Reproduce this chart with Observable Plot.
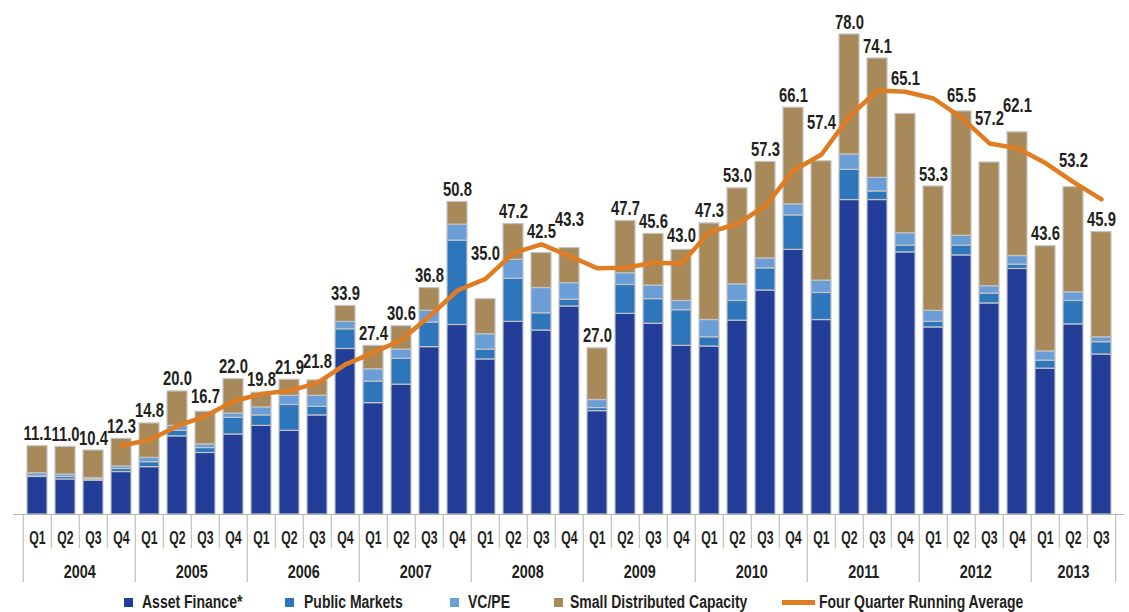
<!DOCTYPE html>
<html>
<head>
<meta charset="utf-8">
<script src="https://cdn.jsdelivr.net/npm/d3@7"></script>
<script src="https://cdn.jsdelivr.net/npm/@observablehq/plot@0.6"></script>
<style>
  html, body { margin: 0; padding: 0; background: #fff; overflow: hidden; }
  #wrap { position: relative; width: 1129px; height: 612px; overflow: hidden; }
  #chart svg { display: block; }
  #legend { position: absolute; left: 0; top: 588px; width: 1129px; height: 24px; }
  .sw { position: absolute; top: 10px; width: 9px; height: 9px; }
  .ln { position: absolute; top: 12px; height: 5px; }
  .lt { position: absolute; top: 5px; white-space: nowrap; font-weight: bold;
        font-size: 17.5px; line-height: 18px; color: #231f20; transform-origin: 0 50%; }
</style>
</head>
<body>
<div id="wrap"><div id="chart"></div><div id="legend"></div></div>
<script>
// ---------------- data ----------------
const years = [2004, 2005, 2006, 2007, 2008, 2009, 2010, 2011, 2012, 2013];
const periods = [
  "2004 Q1","2004 Q2","2004 Q3","2004 Q4",
  "2005 Q1","2005 Q2","2005 Q3","2005 Q4",
  "2006 Q1","2006 Q2","2006 Q3","2006 Q4",
  "2007 Q1","2007 Q2","2007 Q3","2007 Q4",
  "2008 Q1","2008 Q2","2008 Q3","2008 Q4",
  "2009 Q1","2009 Q2","2009 Q3","2009 Q4",
  "2010 Q1","2010 Q2","2010 Q3","2010 Q4",
  "2011 Q1","2011 Q2","2011 Q3","2011 Q4",
  "2012 Q1","2012 Q2","2012 Q3","2012 Q4",
  "2013 Q1","2013 Q2","2013 Q3"
];
const seriesNames = ["Asset Finance*", "Public Markets", "VC/PE", "Small Distributed Capacity"];
const lineName = "Four Quarter Running Average";

const assetFinance = [6.1,5.7,5.5,6.9, 7.7,12.7,10.0,13.0, 14.4,13.6,16.1,26.9, 18.1,21.1,27.2,30.8,
  25.2,31.3,29.9,33.8, 16.8,32.6,31.0,27.4, 27.3,31.5,36.4,43.0, 31.6,51.1,51.1,42.6,
  30.4,42.1,34.3,39.9, 23.7,30.9,26.0];
const publicMarkets = [0.1,0.4,0.2,0.5, 0.8,0.9,0.8,2.7, 1.7,4.2,1.4,3.2, 3.5,4.2,4.0,13.7,
  1.6,7.0,2.8,1.1, 0.5,4.7,4.0,5.8, 1.5,3.2,3.6,5.6, 4.4,4.9,1.4,1.1,
  0.9,1.6,1.6,0.7, 1.3,3.8,2.0];
const vcpe = [0.5,0.4,0.2,0.4, 0.7,0.8,0.6,0.7, 1.3,1.5,1.8,1.2, 2.0,1.5,1.9,2.6,
  2.5,3.1,4.1,2.7, 1.3,1.9,2.2,1.5, 2.8,2.7,1.6,1.8, 2.0,2.5,2.2,2.0,
  1.8,1.6,1.2,1.4, 1.5,1.4,0.8];
const smallDistributed = [4.4,4.5,4.5,4.5, 5.6,5.6,5.3,5.6, 2.4,2.6,2.5,2.6, 3.8,3.8,3.7,3.7,
  5.7,5.8,5.7,5.7, 8.4,8.5,8.4,8.3, 15.7,15.6,15.7,15.7, 19.4,19.5,19.4,19.4,
  20.2,20.2,20.1,20.1, 17.1,17.1,17.1];
const totals = [11.1,11.0,10.4,12.3, 14.8,20.0,16.7,22.0, 19.8,21.9,21.8,33.9, 27.4,30.6,36.8,50.8,
  35.0,47.2,42.5,43.3, 27.0,47.7,45.6,43.0, 47.3,53.0,57.3,66.1, 57.4,78.0,74.1,65.1,
  53.3,65.5,57.2,62.1, 43.6,53.2,45.9];
// running average, from 2004 Q4 to 2013 Q3
const averagePeriods = periods.slice(3);
const runningAverage = [11.2,12.1,14.4,16.0, 18.4,19.6,20.1,21.4, 24.4,26.3,28.4,32.2,
  36.4,38.3,42.5,43.9, 42.0,40.0,40.1,40.9, 40.8,45.9,47.2,50.2, 55.9,58.5,64.7,68.9,
  68.7,67.6,64.5,60.3, 59.5,57.1,54.0,51.2];

const colors = ["#233E98", "#2E76BC", "#6B9DD6", "#A88A5A"];
const lineColor = "#E07C22";

// ---------------- font choice ----------------
function hasFont(name) {
  const c = document.createElement("canvas").getContext("2d");
  const s = "Q1 2004 Asset Finance 78.0 Wm";
  c.font = "bold 40px monospace"; const a = c.measureText(s).width;
  c.font = `bold 40px "${name}", monospace`; const b = c.measureText(s).width;
  c.font = "bold 40px serif"; const d = c.measureText(s).width;
  c.font = `bold 40px "${name}", serif`; const e = c.measureText(s).width;
  return a !== b || d !== e;
}
const hasNarrow = hasFont("Liberation Sans Narrow");
const fontFamily = hasNarrow ? `"Liberation Sans Narrow"` : `"Liberation Sans", Arial, sans-serif`;
const k = hasNarrow ? 1 / 0.82 : 1;   // narrow face is already ~82% wide
const squeeze = {vals: 0.76 * k, qtrs: 0.68 * k, yrs: 0.8 * k, legend: 0.8 * k};

// ---------------- layout ----------------
const W = 1129, H = 588, mL = 13, mR = 5, mT = 34, mB = 74;
const yMax = 78;
const pxPerUnit = (H - mT - mB) / yMax;
const step = (W - mL - mR) / periods.length;

// ---------------- tables ----------------
const seriesArrays = [assetFinance, publicMarkets, vcpe, smallDistributed];
const stacked = periods.flatMap((p, i) =>
  seriesNames.map((s, j) => ({period: p, series: s, value: seriesArrays[j][i]})));
const avgRows = averagePeriods.map((p, i) => ({period: p, avg: runningAverage[i]}));
const avgBy = new Map(avgRows.map(d => [d.period, d.avg]));

// label sits above the bar, or above the line where the line passes just over the bar;
// a label that would sit beside a raised neighbour is lifted clear of it
const labelGap = 14 / pxPerUnit;
const labelRows = [];
periods.forEach((p, i) => {
  const t = totals[i];
  const a = avgBy.get(p);
  let anchor = t;
  if (a !== undefined) {
    const pts = [a];
    const prev = avgBy.get(periods[i - 1]);
    const next = avgBy.get(periods[i + 1]);
    if (prev !== undefined) pts.push((a + prev) / 2);
    if (next !== undefined) pts.push((a + next) / 2);
    const top = Math.max(...pts);
    if (top - t <= 6) anchor = Math.max(t, top);
  }
  const before = labelRows[i - 1];
  if (before && before.anchor > before.total && Math.abs(anchor - before.anchor) < labelGap) {
    anchor = Math.max(anchor, before.anchor + labelGap * 0.9);
  }
  labelRows.push({period: p, total: t, anchor});
});

const q1s = periods.filter(p => p.endsWith("Q1"));
const nonQ1 = periods.filter(p => !p.endsWith("Q1"));
const fullYears = years.filter(y => periods.filter(p => p.startsWith(y)).length === 4);
const partYears = years.filter(y => periods.filter(p => p.startsWith(y)).length === 3);
const sepColor = "#b4b4b4";
const ink = "#231f20";

const chart = Plot.plot({
  width: W, height: H,
  marginLeft: mL, marginRight: mR, marginTop: mT, marginBottom: mB,
  style: {fontFamily, fontSize: "19px", color: ink, background: "#fff"},
  x: {type: "band", domain: periods, paddingInner: 0.3, paddingOuter: 0.15, align: 0.5, axis: null},
  y: {domain: [0, yMax], axis: null},
  color: {domain: seriesNames, range: colors},
  marks: [
    Plot.barY(stacked, {x: "period", y: "value", fill: "series", stroke: "#c4c4c4", strokeWidth: 1.2}),
    Plot.ruleY([0], {stroke: sepColor, strokeWidth: 1.2}),
    Plot.ruleX(nonQ1, {x: d => d, y1: 0, y2: 0, insetBottom: -34, dx: -step / 2, stroke: sepColor}),
    Plot.ruleX(q1s, {x: d => d, y1: 0, y2: 0, insetBottom: -68, dx: -step / 2, stroke: sepColor}),
    Plot.ruleX([periods[periods.length - 1]], {x: d => d, y1: 0, y2: 0, insetBottom: -68, dx: step / 2, stroke: sepColor}),
    Plot.line(avgRows, {x: "period", y: "avg", stroke: lineColor, strokeWidth: 4.5,
      strokeLinejoin: "round", strokeLinecap: "round"}),
    Plot.text(labelRows, {x: "period", y: "anchor", text: d => d.total.toFixed(1), className: "vals",
      lineAnchor: "bottom", dy: -6, fontWeight: "bold", fontSize: 19.5, fill: ink}),
    Plot.text(periods, {x: d => d, text: d => d.split(" ")[1], frameAnchor: "bottom", className: "qtrs",
      lineAnchor: "bottom", dy: 29, fontWeight: "bold", fontSize: 18, fill: ink}),
    Plot.text(fullYears, {x: d => `${d} Q2`, text: d => String(d), frameAnchor: "bottom", className: "yrs",
      lineAnchor: "bottom", dy: 63, dx: step / 2, fontWeight: "bold", fontSize: 18, fill: ink}),
    Plot.text(partYears, {x: d => `${d} Q2`, text: d => String(d), frameAnchor: "bottom", className: "yrs",
      lineAnchor: "bottom", dy: 63, fontWeight: "bold", fontSize: 18, fill: ink})
  ]
});
for (const cls of ["vals", "qtrs", "yrs"]) {
  chart.querySelectorAll(`g.${cls} text`).forEach(t => {
    const tr = t.getAttribute("transform");
    if (tr) t.setAttribute("transform", `${tr} scale(${squeeze[cls]},1)`);
  });
}
document.getElementById("chart").appendChild(chart);

// ---------------- legend ----------------
const legend = document.getElementById("legend");
const legendItems = [
  {name: seriesNames[0], color: colors[0], sw: 124, tx: 142},
  {name: seriesNames[1], color: colors[1], sw: 285, tx: 304},
  {name: seriesNames[2], color: colors[2], sw: 450, tx: 468},
  {name: seriesNames[3], color: colors[3], sw: 554, tx: 570},
  {name: lineName, color: lineColor, sw: 782, tx: 819, line: true}
];
for (const it of legendItems) {
  const s = document.createElement("div");
  s.className = it.line ? "ln" : "sw";
  s.style.left = it.sw + "px";
  s.style.background = it.color;
  if (it.line) s.style.width = "33px";
  legend.appendChild(s);
  const t = document.createElement("div");
  t.className = "lt";
  t.style.left = it.tx + "px";
  t.style.fontFamily = fontFamily;
  t.style.transform = `scaleX(${squeeze.legend})`;
  t.textContent = it.name;
  legend.appendChild(t);
}
</script>
</body>
</html>
